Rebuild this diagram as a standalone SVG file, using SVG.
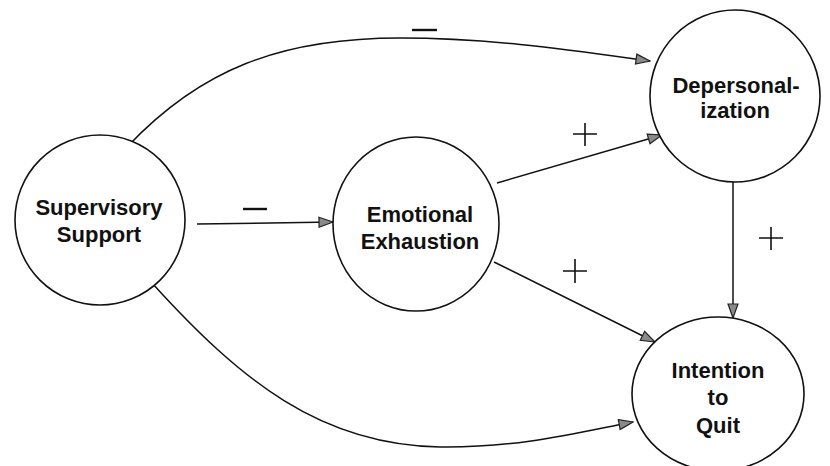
<svg xmlns="http://www.w3.org/2000/svg" width="830" height="466" viewBox="0 0 830 466">
<defs>
<marker id="ah" markerWidth="16" markerHeight="12" refX="15" refY="6" orient="auto" markerUnits="userSpaceOnUse">
<path d="M1,1 L15,6 L1,11 Z" fill="#8a8a8a" stroke="#222" stroke-width="1.2" stroke-linejoin="miter"/>
</marker>
</defs>
<style>
.node ellipse{fill:#fff;stroke:#111;stroke-width:1.6}
.node text{font-family:"Liberation Sans",Arial,sans-serif;font-weight:bold;font-size:22px;fill:#111;text-anchor:middle}
.edge{fill:none;stroke:#111;stroke-width:1.5;marker-end:url(#ah)}
.sign{stroke:#111;fill:none}
</style>
<rect width="830" height="466" fill="#fff"/>
<g id="connectors">
<path class="edge" d="M128,146 C200,70 280,38 400,38 C490,38 570,50 650,61"/>
<path class="edge" d="M197,224 L333,222"/>
<path class="edge" d="M497,183 L662,135"/>
<path class="edge" d="M494,262 L655,342"/>
<path class="edge" d="M733,182 L733,318"/>
<path class="edge" d="M152,283 C240,380 320,445 440,447 C520,448 580,432 633,422"/>
<g id="signs">
<path class="sign" stroke-width="2.4" d="M412,30 H437"/>
<path class="sign" stroke-width="2.4" d="M243,209 H267"/>
<path class="sign" stroke-width="1.6" d="M573,134 H597 M585,123 V146"/>
<path class="sign" stroke-width="1.6" d="M563,271 H587 M575,259 V283"/>
<path class="sign" stroke-width="1.6" d="M759,238 H783 M771,227 V250"/>
</g>
</g>
<g id="supervisory" class="node">
<ellipse cx="100" cy="220" rx="85" ry="85"/>
<text x="99" y="215">Supervisory</text>
<text x="99" y="242">Support</text>
</g>
<g id="emotional" class="node">
<ellipse cx="416" cy="224" rx="83" ry="87"/>
<text x="420" y="222">Emotional</text>
<text x="420" y="249">Exhaustion</text>
</g>
<g id="depersonalization" class="node">
<ellipse cx="735" cy="96" rx="85" ry="86"/>
<text x="736" y="93">Depersonal-</text>
<text x="735" y="118">ization</text>
</g>
<g id="intention" class="node">
<ellipse cx="718" cy="394" rx="86" ry="77"/>
<text x="718" y="378">Intention</text>
<text x="718" y="405">to</text>
<text x="718" y="433">Quit</text>
</g>
</svg>
